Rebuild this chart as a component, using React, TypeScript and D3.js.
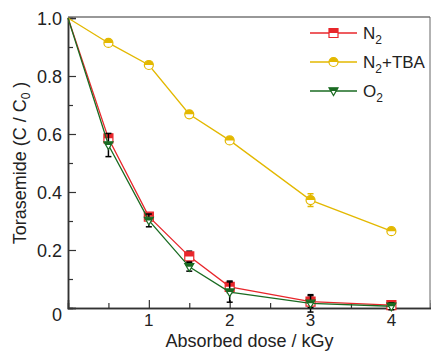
import React, { useRef, useEffect } from 'react';
import * as d3 from 'd3';

const doses = [0, 0.5, 1, 1.5, 2, 3, 4];
const n2 = [1.0, 0.585, 0.315, 0.178, 0.073, 0.022, 0.01];
const n2Err = [0, 0.01, 0.012, 0.018, 0.02, 0.02, 0.01];
const n2tba = [1.0, 0.914, 0.838, 0.668, 0.578, 0.372, 0.265];
const n2tbaErr = [0, 0.008, 0.01, 0.008, 0.01, 0.022, 0.01];
const o2 = [1.0, 0.562, 0.302, 0.142, 0.055, 0.016, 0.006];
const o2Err = [0, 0.04, 0.022, 0.015, 0.035, 0.03, 0.012];
const yTicks = [0, 0.2, 0.4, 0.6, 0.8, 1.0];
const xTicks = [1, 2, 3, 4];

const series = [
    { name: 'N2', label: ['N', '2', ''], values: n2, err: n2Err, color: '#e8262b', errColor: '#000', shape: 'square' },
    { name: 'N2+TBA', label: ['N', '2', '+TBA'], values: n2tba, err: n2tbaErr, color: '#e3b800', errColor: '#e3b800', shape: 'circle' },
    { name: 'O2', label: ['O', '2', ''], values: o2, err: o2Err, color: '#1a6b22', errColor: '#000', shape: 'triangle' },
];

const App = () => {
    const ref = useRef<SVGSVGElement>(null);

    useEffect(() => {
        const svg = d3.select(ref.current);
        svg.selectAll('*').remove();

        const width = 431;
        const height = 351;
        const margin = { top: 18, right: 0, bottom: 43, left: 68 };
        const font = 'Liberation Sans, Arial, sans-serif';

        const x = d3.scaleLinear().domain([0, 4.49]).range([margin.left, width - margin.right]);
        const y = d3.scaleLinear().domain([0, 1.0]).range([height - margin.bottom, margin.top]);

        // frame
        svg.append('line').attr('x1', x(0)).attr('x2', x(4.49) - 1).attr('y1', y(1) - 1).attr('y2', y(1) - 1)
            .attr('stroke', '#333').attr('stroke-width', 1.2);
        svg.append('line').attr('x1', x(4.49) - 1).attr('x2', x(4.49) - 1).attr('y1', y(1) - 1).attr('y2', y(0))
            .attr('stroke', '#666').attr('stroke-width', 1);

        const yAxis = svg.append('g').attr('transform', `translate(${margin.left},0)`)
            .call(d3.axisRight(y).tickValues(yTicks).tickSize(8).tickFormat(() => ''));
        yAxis.append('g').call(d3.axisRight(y).tickValues([0.1, 0.3, 0.5, 0.7, 0.9]).tickSize(5).tickFormat(() => ''));
        yAxis.selectAll('path').attr('stroke', '#333').attr('stroke-width', 1.5);
        yAxis.selectAll('line').attr('stroke', '#333').attr('stroke-width', 1.2);

        const xAxis = svg.append('g').attr('transform', `translate(0,${y(0)})`)
            .call(d3.axisTop(x).tickValues(xTicks).tickSize(8).tickFormat(() => ''));
        xAxis.append('g').call(d3.axisTop(x).tickValues([0.5, 1.5, 2.5, 3.5]).tickSize(5).tickFormat(() => ''));
        xAxis.selectAll('path').attr('stroke', '#333').attr('stroke-width', 1.5);
        xAxis.selectAll('line').attr('stroke', '#333').attr('stroke-width', 1.2);

        // tick labels
        svg.selectAll('.ylab').data(yTicks).enter().append('text')
            .attr('x', margin.left - 6).attr('y', d => y(d) + (d === 0 ? 13 : 6.5))
            .attr('text-anchor', 'end').attr('font-family', font).attr('font-size', 18).attr('fill', '#222')
            .text(d => (d === 0 ? '0' : d.toFixed(1)));
        svg.selectAll('.xlab').data(xTicks).enter().append('text')
            .attr('x', d => x(d)).attr('y', y(0) + 18)
            .attr('text-anchor', 'middle').attr('font-family', font).attr('font-size', 17).attr('fill', '#222')
            .text(d => String(d));

        // axis titles
        svg.append('text').attr('x', (x(0) + x(4.49)) / 2).attr('y', 347)
            .attr('text-anchor', 'middle').attr('font-family', font).attr('font-size', 18).attr('fill', '#222')
            .text('Absorbed dose / kGy');
        const yt = svg.append('text').attr('transform', `translate(26,${(y(0) + y(1)) / 2}) rotate(-90)`)
            .attr('text-anchor', 'middle').attr('font-family', font).attr('font-size', 18).attr('fill', '#222');
        yt.append('tspan').text('Torasemide (C / C');
        yt.append('tspan').attr('font-size', 12).attr('dy', 4).text('0');
        yt.append('tspan').attr('dy', -4).text(' )');

        const drawMarker = (g: any, cx: number, cy: number, s: any, r: number) => {
            const clipId = `clip-${s.name.replace('+', '')}-${Math.round(cx)}-${Math.round(cy)}`;
            g.append('clipPath').attr('id', clipId).append('rect')
                .attr('x', cx - 10).attr('y', cy - 10).attr('width', 20).attr('height', 10);
            let path: string;
            if (s.shape === 'square') {
                path = `M${cx - r},${cy - r}h${2 * r}v${2 * r}h${-2 * r}Z`;
            } else if (s.shape === 'circle') {
                path = `M${cx - r},${cy}a${r},${r} 0 1,0 ${2 * r},0a${r},${r} 0 1,0 ${-2 * r},0`;
            } else {
                path = `M${cx - r},${cy - r * 0.7}L${cx + r},${cy - r * 0.7}L${cx},${cy + r}Z`;
            }
            g.append('path').attr('d', path).attr('fill', '#fff').attr('stroke', s.color).attr('stroke-width', 1.2);
            g.append('path').attr('d', path).attr('fill', s.color).attr('clip-path', `url(#${clipId})`);
        };

        const line = d3.line<number>().x((_, i) => x(doses[i])).y(d => y(d));

        series.forEach(s => {
            const g = svg.append('g');
            g.append('path').datum(s.values).attr('d', line).attr('fill', 'none')
                .attr('stroke', s.color).attr('stroke-width', 1.3);
            s.values.forEach((v, i) => {
                if (i === 0) return;
                const e = s.err[i];
                const cx = x(doses[i]);
                g.append('line').attr('x1', cx).attr('x2', cx).attr('y1', y(v - e)).attr('y2', y(v + e))
                    .attr('stroke', s.errColor).attr('stroke-width', 1.5);
                [v - e, v + e].forEach(ev => {
                    g.append('line').attr('x1', cx - 3).attr('x2', cx + 3).attr('y1', y(ev)).attr('y2', y(ev))
                        .attr('stroke', s.errColor).attr('stroke-width', 1.5);
                });
                drawMarker(g, cx, y(v), s, 4.5);
            });
        });

        // legend
        const lg = svg.append('g');
        series.forEach((s, i) => {
            const ly = 33 + i * 29;
            lg.append('line').attr('x1', 310).attr('x2', 357).attr('y1', ly).attr('y2', ly)
                .attr('stroke', s.color).attr('stroke-width', 1.3);
            drawMarker(lg, 333.5, ly, s, 4.5);
            const t = lg.append('text').attr('x', 363).attr('y', ly + 6)
                .attr('font-family', font).attr('font-size', 17).attr('fill', '#222');
            t.append('tspan').text(s.label[0]);
            t.append('tspan').attr('font-size', 12).attr('dy', 5).text(s.label[1]);
            if (s.label[2]) t.append('tspan').attr('dy', -5).text(s.label[2]);
        });
    }, []);

    return <svg ref={ref} width={431} height={351} style={{ position: 'absolute', left: 0, top: 0, background: '#fff' }}></svg>;
};

export default App;
